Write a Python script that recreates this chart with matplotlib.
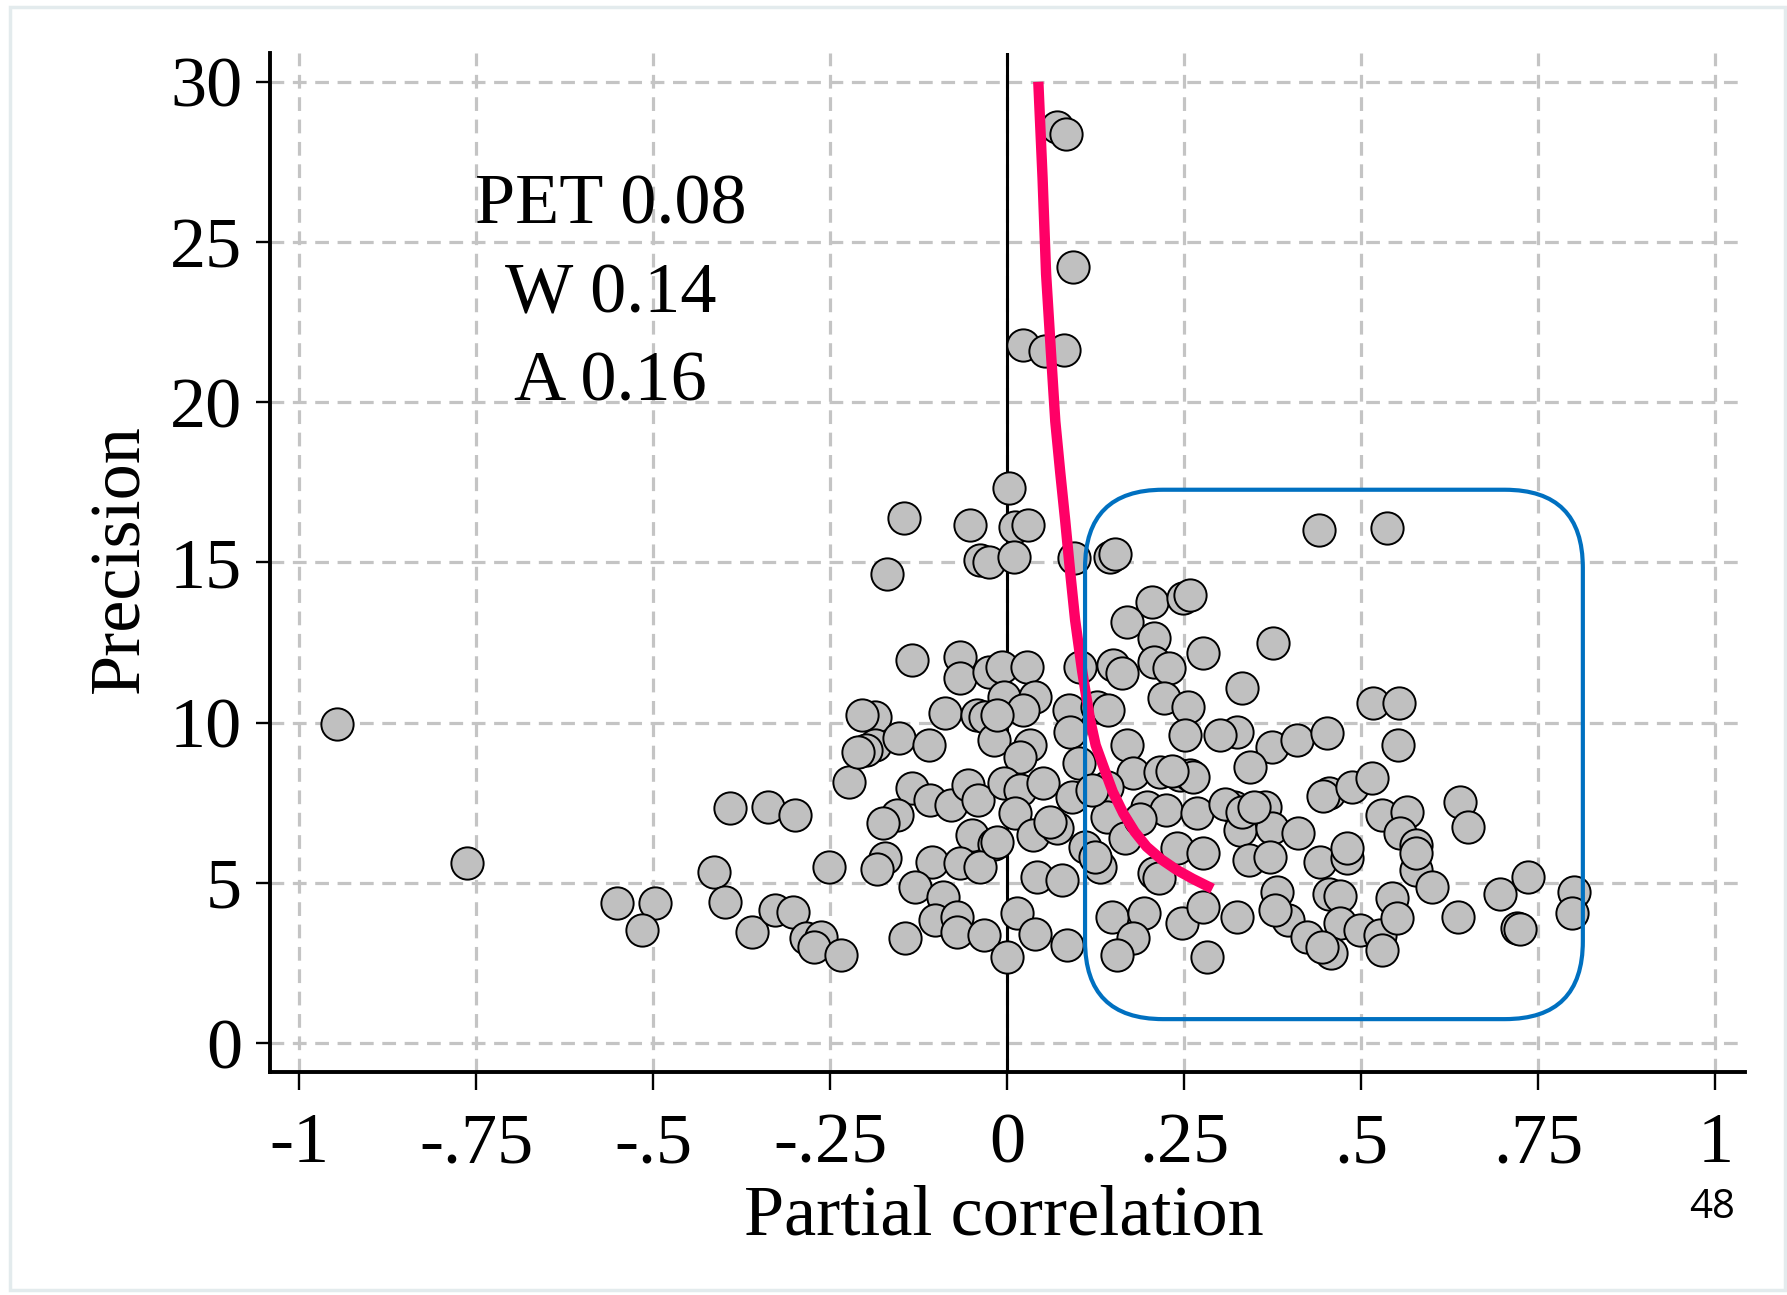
import matplotlib
matplotlib.use("Agg")
import matplotlib.pyplot as plt
from matplotlib.patches import FancyBboxPatch, Rectangle

plt.rcParams['font.family'] = ['Liberation Serif', 'DejaVu Serif']

# studies: partial correlation vs precision
corr = [
    -0.947, -0.763, -0.551, -0.497, -0.515, -0.414, -0.399, -0.392, -0.338, -0.299,
    -0.360, -0.328, -0.302, -0.284, -0.263, -0.273, -0.234, -0.252, -0.223,
    -0.186, -0.205, -0.186, -0.200, -0.210, -0.153, -0.111, -0.135, -0.109, -0.080,
    -0.055, -0.041, -0.156, -0.175, -0.050, -0.019, -0.172, -0.184, -0.106, -0.066,
    -0.038, -0.130, -0.090, -0.102, -0.071, -0.071, -0.033, 0.000, -0.144, -0.088,
    -0.043, -0.031, -0.019,
    -0.146, -0.053, -0.170, -0.039, -0.026, -0.135, -0.067, -0.066, -0.026,
    0.002, 0.011, 0.030, 0.009, 0.094, 0.145, 0.152, 0.204, 0.249, 0.258, 0.169,
    0.207, 0.277, 0.207, 0.228, 0.221, 0.256, -0.007, 0.028, 0.103, 0.150, 0.162,
    -0.005, 0.040, 0.023, 0.087, 0.127, 0.143,
    -0.015, 0.089, 0.169, 0.251, 0.032, 0.018, 0.101, 0.178, 0.216, 0.244, 0.258,
    -0.005, 0.018, 0.051, 0.091, 0.141, 0.197, 0.225, 0.268, 0.011, 0.141, 0.037,
    0.070, -0.015, 0.110, 0.167, 0.240, 0.277, 0.042, 0.077, 0.131, 0.124, 0.207,
    0.214, 0.014, 0.040, 0.084, 0.148, 0.193, 0.178, 0.155, 0.247, 0.282, 0.277,
    0.324, 0.301, 0.374, 0.409, 0.451, 0.343, 0.517, 0.554, 0.552, 0.454, 0.446,
    0.487, 0.515, 0.529, 0.564, 0.555, 0.578, 0.578, 0.320, 0.364, 0.329, 0.374,
    0.411, 0.341, 0.371, 0.442, 0.480, 0.480, 0.381, 0.454, 0.470, 0.543, 0.324,
    0.397, 0.423, 0.470, 0.498, 0.527, 0.529, 0.458, 0.445, 0.550, 0.378,
    0.640, 0.651, 0.578, 0.600, 0.637, 0.696, 0.736, 0.720, 0.724, 0.800, 0.797,
    0.440, 0.536, 0.376, 0.331,
    0.023, 0.054, 0.080, 0.070, 0.083, 0.093,
    0.308, 0.332, 0.348, 0.262, 0.233, 0.188, 0.120, 0.060,
]
precision = [
    9.96, 5.61, 4.36, 4.36, 3.53, 5.35, 4.41, 7.33, 7.38, 7.12,
    3.47, 4.15, 4.10, 3.27, 3.32, 3.01, 2.75, 5.50, 8.16,
    10.19, 10.24, 9.30, 9.15, 9.09, 9.51, 9.30, 7.95, 7.59, 7.43,
    8.05, 7.59, 7.12, 6.86, 6.49, 6.23, 5.77, 5.45, 5.66, 5.61,
    5.50, 4.88, 4.57, 3.84, 3.94, 3.47, 3.37, 2.69, 3.27, 10.29,
    10.24, 10.19, 9.46,
    16.38, 16.17, 14.64, 15.08, 15.03, 11.96, 12.04, 11.38, 11.59,
    17.32, 16.12, 16.17, 15.18, 15.13, 15.18, 15.25, 13.78, 13.88, 14.00, 13.15,
    12.64, 12.17, 11.91, 11.70, 10.76, 10.50, 11.75, 11.75, 11.75, 11.80, 11.54,
    10.81, 10.81, 10.40, 10.40, 10.50, 10.40,
    10.24, 9.72, 9.30, 9.62, 9.30, 8.94, 8.73, 8.42, 8.47, 8.37, 8.37,
    8.11, 7.90, 8.11, 7.69, 8.00, 7.38, 7.27, 7.17, 7.17, 7.07, 6.49,
    6.70, 6.28, 6.13, 6.39, 6.08, 5.92, 5.19, 5.09, 5.50, 5.82, 5.30,
    5.15, 4.05, 3.42, 3.06, 3.94, 4.05, 3.27, 2.75, 3.74, 2.69, 4.26,
    9.72, 9.62, 9.25, 9.46, 9.67, 8.63, 10.60, 10.60, 9.30, 7.80, 7.70,
    8.00, 8.26, 7.12, 7.22, 6.55, 6.18, 5.40, 7.38, 7.38, 6.65, 6.70,
    6.55, 5.71, 5.82, 5.66, 5.77, 6.10, 4.72, 4.67, 4.60, 4.52, 3.94,
    3.84, 3.32, 3.74, 3.53, 3.37, 2.90, 2.80, 3.00, 3.90, 4.15,
    7.53, 6.75, 5.92, 4.88, 3.94, 4.67, 5.19, 3.58, 3.55, 4.72, 4.05,
    16.02, 16.07, 12.48, 11.07,
    21.78, 21.60, 21.64, 28.58, 28.36, 24.23,
    7.47, 7.22, 7.37, 8.30, 8.50, 7.00, 7.90, 6.90,
]

# fitted curve (traced)
curve_x = [0.044, 0.050, 0.055, 0.062, 0.068, 0.075, 0.082, 0.089, 0.096, 0.106,
           0.117, 0.125, 0.136, 0.149, 0.164, 0.180, 0.197, 0.218, 0.240, 0.262, 0.290]
curve_y = [30.0, 27.0, 24.0, 21.5, 19.4, 17.8, 16.3, 14.7, 13.2, 11.6,
           10.1, 9.3, 8.63, 7.85, 7.17, 6.6, 6.13, 5.73, 5.40, 5.13, 4.82]

xticks = [-1, -0.75, -0.5, -0.25, 0, 0.25, 0.5, 0.75, 1]
xtick_labels = ['-1', '-.75', '-.5', '-.25', '0', '.25', '.5', '.75', '1']
yticks = [0, 5, 10, 15, 20, 25, 30]
stats = ['PET 0.08', 'W 0.14', 'A 0.16']

fig = plt.figure(figsize=(17.87, 12.95), dpi=100)
ax = fig.add_axes([0.1511, 0.1722, 0.8254, 0.7869])

ax.set_xlim(-1.041, 1.042)
ax.set_ylim(-0.9, 30.9)

ax.set_xticks(xticks)
ax.set_xticklabels(xtick_labels)
ax.set_yticks(yticks)
ax.tick_params(axis='x', labelsize=52, length=13, width=1.7, pad=16)
ax.tick_params(axis='y', labelsize=52, length=10, width=1.7, pad=10)
for s in ['top', 'right']:
    ax.spines[s].set_visible(False)
for s in ['left', 'bottom']:
    ax.spines[s].set_linewidth(2.8)

ax.grid(True, color='#c4c4c4', linewidth=2.3, linestyle=(0, (4.3, 2.7)))
ax.set_axisbelow(True)

ax.axvline(0, color='black', linewidth=2.2, zorder=2)
ax.scatter(corr, precision, s=540, c='#c0c0c0', edgecolors='black',
           linewidths=1.4, zorder=3)
ax.plot(curve_x, curve_y, color='#ff0066', linewidth=7.5, zorder=5,
        solid_capstyle='butt')

box = FancyBboxPatch((0.110, 0.75), 0.703, 16.52,
                     boxstyle='round,pad=0,rounding_size=0.110',
                     mutation_aspect=22.1, fill=False, edgecolor='#0070c0',
                     linewidth=3.0, zorder=6)
ax.add_patch(box)

for txt, yy in zip(stats, [25.57, 22.79, 20.04]):
    ax.text(-0.56, yy, txt, fontsize=52, ha='center', va='baseline', zorder=4)

ax.set_xlabel('Partial correlation', fontsize=52)
ax.set_ylabel('Precision', fontsize=52)
ax.xaxis.set_label_coords(0.4976, -0.110)
ax.yaxis.set_label_coords(-0.079, 0.504)

fig.text(0.958, 0.0595, '48', fontsize=29, family='Open Sans',
         ha='center', va='baseline')
fig.patches.append(Rectangle((10 / 1787, 0.004), 1775 / 1787, 0.9906,
                             transform=fig.transFigure, fill=False,
                             edgecolor='#e3ebed', linewidth=2.5))

fig.savefig('out.png', dpi=100)
